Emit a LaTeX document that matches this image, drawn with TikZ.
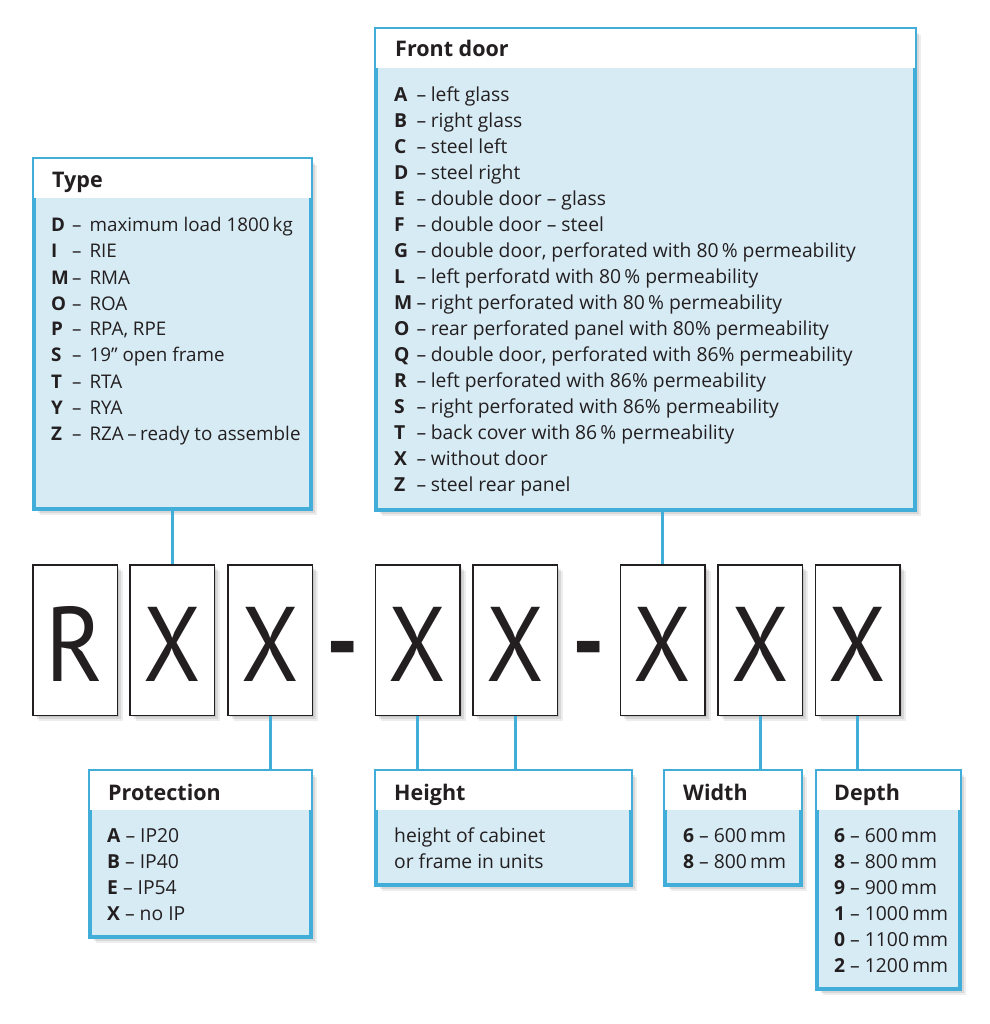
\documentclass[tikz,border=0pt]{standalone}
\usepackage{fontspec}
\setmainfont{Open Sans}
\newfontfamily\letterfont{PT Sans}
\newfontfamily\dashfont{Lato}
\usetikzlibrary{calc}
\definecolor{bblue}{RGB}{64,174,216}
\definecolor{lblue}{RGB}{215,235,245}
\definecolor{ink}{RGB}{35,31,32}
\newcommand\typrow[2]{\hbox{\makebox[21pt][l]{\bfseries #1}–\hspace{8pt}#2}}
\newcommand\fdrow[2]{\hbox{\makebox[22.5pt][l]{\bfseries #1}–\hspace{4.5pt}#2}}
\newcommand\plrow[2]{\hbox{\textbf{#1} – #2}}
\tikzset{
  softshadow/.style={
    preaction={fill=black,opacity=0.09,transform canvas={xshift=2pt,yshift=-2pt}},
    preaction={fill=black,opacity=0.09,transform canvas={xshift=4pt,yshift=-4pt}},
    preaction={fill=black,opacity=0.07,transform canvas={xshift=6pt,yshift=-6pt}}},
  infobox/.style={rectangle,draw=bblue,line width=4pt,fill=lblue,softshadow,inner sep=0pt},
  letterbox/.style={rectangle,draw=ink,line width=1.5pt,fill=white,softshadow,inner sep=0pt,
    minimum width=84.5pt,minimum height=150.5pt,text=ink,
    font=\letterfont\fontsize{106}{106}\selectfont,text height=90pt,text depth=8pt},
  conn/.style={draw=bblue,line width=3pt},
  head/.style={anchor=base west,inner sep=0pt,text=ink,font=\bfseries\fontsize{21.5}{26}\selectfont},
  body/.style={anchor=base west,inner sep=0pt,text=ink,font=\fontsize{19.3}{26}\selectfont},
  dashsign/.style={inner sep=0pt,text=ink,font=\dashfont\bfseries\fontsize{79}{79}\selectfont}
}
\begin{document}
\begin{tikzpicture}[x=1pt,y=-1pt]
\useasboundingbox[fill=white] (0,0) rectangle (989,1024);

% info boxes
\node[infobox,minimum width=277pt,minimum height=350pt] (type) at (172.5,334) {};
\node[infobox,minimum width=539pt,minimum height=481pt] (front) at (645.5,269.5) {};
\node[infobox,minimum width=221pt,minimum height=166pt] (prot) at (200.5,854) {};
\node[infobox,minimum width=255pt,minimum height=114pt] (height) at (503.5,828) {};
\node[infobox,minimum width=136pt,minimum height=114pt] (width) at (733,828) {};
\node[infobox,minimum width=143pt,minimum height=218pt] (depth) at (888.5,880) {};
\foreach \b in {type,front,prot,height,width,depth}{
  \fill[white] ($(\b.north west)+(2,2)$) rectangle ($(\b.north east)+(-2,41)$);
}

% letter boxes
\node[letterbox] (l1) at (75,640) {\scalebox{0.92}[1]{R}};
\node[letterbox] (l2) at (172,640) {\scalebox{0.88}[1]{X}};
\node[letterbox] (l3) at (270,640) {\scalebox{0.88}[1]{X}};
\node[letterbox] (l4) at (417.5,640) {\scalebox{0.88}[1]{X}};
\node[letterbox] (l5) at (515,640) {\scalebox{0.88}[1]{X}};
\node[letterbox] (l6) at (662.5,640) {\scalebox{0.88}[1]{X}};
\node[letterbox] (l7) at (760,640) {\scalebox{0.88}[1]{X}};
\node[letterbox] (l8) at (857.5,640) {\scalebox{0.88}[1]{X}};
\node[dashsign,anchor=base] (d1) at (343,680) {\scalebox{1.1}[1.4]{-}};
\node[dashsign,anchor=base] (d2) at (589,680) {\scalebox{1.1}[1.4]{-}};

% connectors
\draw[conn] (type.south -| l2.north) -- (l2.north);
\draw[conn] (front.south -| l6.north) -- (l6.north);
\draw[conn] (l3.south) -- (l3.south |- prot.north);
\draw[conn] (l4.south) -- (l4.south |- height.north);
\draw[conn] (l5.south) -- (l5.south |- height.north);
\draw[conn] (l7.south) -- (l7.south |- width.north);
\draw[conn] (l8.south) -- (l8.south |- depth.north);

% headers
\node[head] (typeh) at (52,188) {Type};
\node[head] (fronth) at (395,57) {Front door};
\node[head] (proth) at (108,800) {Protection};
\node[head] (heighth) at (394,800) {Height};
\node[head] (widthh) at (683,800) {Width};
\node[head] (depthh) at (834,800) {Depth};

% bodies
\node[body,font=\fontsize{18.8}{26}\selectfont] (typeb) at (51,232) {\vtop{\baselineskip=26pt\relax
  \typrow{D}{maximum load 1800\,kg}
  \typrow{I}{RIE}
  \typrow{M}{RMA}
  \typrow{O}{ROA}
  \typrow{P}{RPA, RPE}
  \typrow{S}{19” open frame}
  \typrow{T}{RTA}
  \typrow{Y}{RYA}
  \typrow{Z}{RZA\hspace{3.5pt}–\hspace{3.5pt}ready to assemble}}};

\node[body] (frontb) at (394,101.5) {\vtop{\baselineskip=26pt\relax
  \fdrow{A}{left glass}
  \fdrow{B}{right glass}
  \fdrow{C}{steel left}
  \fdrow{D}{steel right}
  \fdrow{E}{double door – glass}
  \fdrow{F}{double door – steel}
  \fdrow{G}{double door, perforated with 80\,\% permeability}
  \fdrow{L}{left perforatd with 80\,\% permeability}
  \fdrow{M}{right perforated with 80\,\% permeability}
  \fdrow{O}{rear perforated panel with 80\% permeability}
  \fdrow{Q}{double door, perforated with 86\% permeability}
  \fdrow{R}{left perforated with 86\% permeability}
  \fdrow{S}{right perforated with 86\% permeability}
  \fdrow{T}{back cover with 86\,\% permeability}
  \fdrow{X}{without door}
  \fdrow{Z}{steel rear panel}}};

\node[body] (protb) at (107,842) {\vtop{\baselineskip=26pt\relax
  \plrow{A}{IP20}
  \plrow{B}{IP40}
  \plrow{E}{IP54}
  \plrow{X}{no IP}}};

\node[body] (heightb) at (394,842) {\vtop{\baselineskip=26pt\relax
  \hbox{height of cabinet}
  \hbox{or frame in units}}};

\node[body] (widthb) at (683,842) {\vtop{\baselineskip=26pt\relax
  \plrow{6}{600\,mm}
  \plrow{8}{800\,mm}}};

\node[body] (depthb) at (834,842) {\vtop{\baselineskip=26pt\relax
  \plrow{6}{600\,mm}
  \plrow{8}{800\,mm}
  \plrow{9}{900\,mm}
  \plrow{1}{1000\,mm}
  \plrow{0}{1100\,mm}
  \plrow{2}{1200\,mm}}};
\end{tikzpicture}
\end{document}
